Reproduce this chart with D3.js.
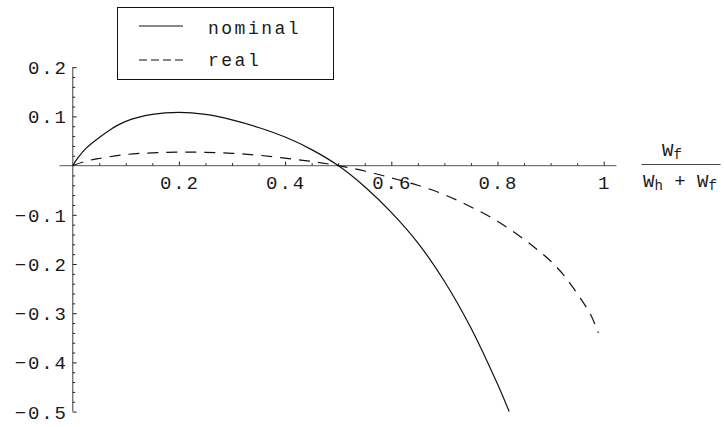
<!DOCTYPE html>
<html>
<head>
<meta charset="utf-8">
<script src="https://cdn.jsdelivr.net/npm/d3@7"></script>
<style>
  body { margin: 0; background: #fff; }
  svg { display: block; }
  text { font-family: "Liberation Mono", "DejaVu Sans Mono", monospace; fill: #1a1a1a; }
</style>
</head>
<body>
<div id="chart"></div>
<script>
// data
var xs       = [0, 0.01, 0.025, 0.05, 0.075, 0.1, 0.15, 0.2, 0.25, 0.3, 0.35, 0.4, 0.45, 0.5, 0.55, 0.6, 0.65, 0.7, 0.75, 0.8, 0.822];
var nominal  = [0, 0.016, 0.035, 0.057, 0.076, 0.090, 0.104, 0.108, 0.104, 0.093, 0.0775, 0.058, 0.0325, 0, -0.043, -0.095, -0.157, -0.235, -0.330, -0.444, -0.5];
var xsReal   = [0, 0.025, 0.05, 0.1, 0.15, 0.2, 0.25, 0.3, 0.35, 0.4, 0.45, 0.5, 0.55, 0.6, 0.65, 0.7, 0.75, 0.8, 0.85, 0.875, 0.9, 0.925, 0.95, 0.975, 0.99];
var real     = [0, 0.009, 0.0145, 0.0225, 0.026, 0.0275, 0.027, 0.025, 0.021, 0.015, 0.0085, 0, -0.011, -0.025, -0.040, -0.059, -0.084, -0.113, -0.150, -0.171, -0.194, -0.223, -0.260, -0.302, -0.34];
var xTicks   = [0.2, 0.4, 0.6, 0.8, 1];
var xLabels  = ['0.2', '0.4', '0.6', '0.8', '1'];
var yTicks   = [0.2, 0.1, -0.1, -0.2, -0.3, -0.4, -0.5];
var yLabels  = ['0.2', '0.1', '\u22120.1', '\u22120.2', '\u22120.3', '\u22120.4', '\u22120.5'];
var seriesNames = ['nominal', 'real'];

var width = 724, height = 427;
var ls = 1.9; // letter spacing of the mono labels

var svg = d3.select('#chart').append('svg')
    .attr('width', width)
    .attr('height', height);

var x = d3.scaleLinear().domain([0, 1]).range([72.7, 603.7]),
    y = d3.scaleLinear().domain([0.2, -0.5]).range([67.2, 411.6]);

// minor tick values
var xMinor = d3.range(0.05, 1.001, 0.05).filter(function (v) {
    return Math.abs(v * 5 - Math.round(v * 5)) > 1e-6;
});
var yMinor = d3.range(-0.5, 0.2001, 0.02).filter(function (v) {
    return Math.abs(v * 10 - Math.round(v * 10)) > 1e-6;
});

// axis lines
svg.append('line')
    .attr('x1', x(-0.025)).attr('x2', x(1.024))
    .attr('y1', y(0)).attr('y2', y(0))
    .attr('stroke', '#777').attr('stroke-width', 1.4);
svg.append('line')
    .attr('x1', x(0)).attr('x2', x(0))
    .attr('y1', y(0.2)).attr('y2', y(-0.5))
    .attr('stroke', '#777').attr('stroke-width', 1.4);

// ticks only, labels are drawn separately
function tickAxis(axis, sel) {
    sel.call(axis);
    sel.select('.domain').remove();
    sel.selectAll('text').remove();
    sel.selectAll('line').attr('stroke', '#222').attr('stroke-width', 1);
}
// x ticks point up from the axis
svg.append('g').attr('transform', 'translate(0,' + y(0) + ')')
    .call(function (g) { tickAxis(d3.axisTop(x).tickValues(xTicks).tickSize(4), g); });
svg.append('g').attr('transform', 'translate(0,' + y(0) + ')')
    .call(function (g) { tickAxis(d3.axisTop(x).tickValues(xMinor).tickSize(2.4), g); });

// y ticks point right
svg.append('g').attr('transform', 'translate(' + x(0) + ',0)')
    .call(function (g) { tickAxis(d3.axisRight(y).tickValues(yTicks).tickSize(4), g); });
svg.append('g').attr('transform', 'translate(' + x(0) + ',0)')
    .call(function (g) { tickAxis(d3.axisRight(y).tickValues(yMinor).tickSize(2.4), g); });

// tick labels
svg.selectAll('text.xl')
    .data(xTicks).enter()
    .append('text')
    .attr('class', 'xl')
    .attr('x', function (d) { return x(d) + ls / 2; })
    .attr('y', y(0) + 23)
    .attr('text-anchor', 'middle')
    .style('font-size', '19px')
    .style('letter-spacing', ls + 'px')
    .text(function (d, i) { return xLabels[i]; });

svg.selectAll('text.yl')
    .data(yTicks).enter()
    .append('text')
    .attr('class', 'yl')
    .attr('x', x(0) - 6.7 + ls)
    .attr('y', function (d) { return y(d) + 7; })
    .attr('text-anchor', 'end')
    .style('font-size', '19px')
    .style('letter-spacing', ls + 'px')
    .text(function (d, i) { return yLabels[i]; });

// curves
var line = d3.line()
    .x(function (d) { return x(d[0]); })
    .y(function (d) { return y(d[1]); })
    .curve(d3.curveCatmullRom.alpha(0.5));

svg.append('path')
    .datum(d3.zip(xs, nominal))
    .attr('d', line)
    .attr('fill', 'none')
    .attr('stroke', '#111')
    .attr('stroke-width', 1.2);

svg.append('path')
    .datum(d3.zip(xsReal, real))
    .attr('d', line)
    .attr('fill', 'none')
    .attr('stroke', '#111')
    .attr('stroke-width', 1.2)
    .attr('stroke-dasharray', '11,8');

// x axis label as a fraction
var frac = svg.append('g');
frac.append('line')
    .attr('x1', 641.5).attr('x2', 720.5)
    .attr('y1', 164.5).attr('y2', 164.5)
    .attr('stroke', '#444').attr('stroke-width', 1);
var num = frac.append('text')
    .attr('x', 672).attr('y', 156)
    .attr('text-anchor', 'middle')
    .style('font-size', '19px');
num.append('tspan').text('W');
num.append('tspan').attr('dy', 3).style('font-size', '14px').text('f');
var den = frac.append('text')
    .attr('x', 680).attr('y', 186.5)
    .attr('text-anchor', 'middle')
    .style('font-size', '19px');
den.append('tspan').text('W');
den.append('tspan').attr('dy', 3).style('font-size', '14px').text('h');
den.append('tspan').attr('dy', -3).text(' + W');
den.append('tspan').attr('dy', 3).style('font-size', '14px').text('f');

// legend
var legend = svg.append('g');
legend.append('rect')
    .attr('x', 117.5).attr('y', 7.5)
    .attr('width', 216).attr('height', 72)
    .attr('fill', '#fff')
    .attr('stroke', '#111')
    .attr('stroke-width', 1);

legend.selectAll('line.key')
    .data(seriesNames).enter()
    .append('line')
    .attr('class', 'key')
    .attr('x1', 139).attr('x2', 183)
    .attr('y1', function (d, i) { return 26 + i * 34; })
    .attr('y2', function (d, i) { return 26 + i * 34; })
    .attr('stroke', '#111')
    .attr('stroke-width', 1.2)
    .attr('stroke-dasharray', function (d, i) { return i ? '8,4' : null; });

legend.selectAll('text.key')
    .data(seriesNames).enter()
    .append('text')
    .attr('class', 'key')
    .attr('x', 208)
    .attr('y', function (d, i) { return 34 + i * 32; })
    .style('font-size', '18px')
    .style('letter-spacing', '2.5px')
    .text(function (d) { return d; });
</script>
</body>
</html>
